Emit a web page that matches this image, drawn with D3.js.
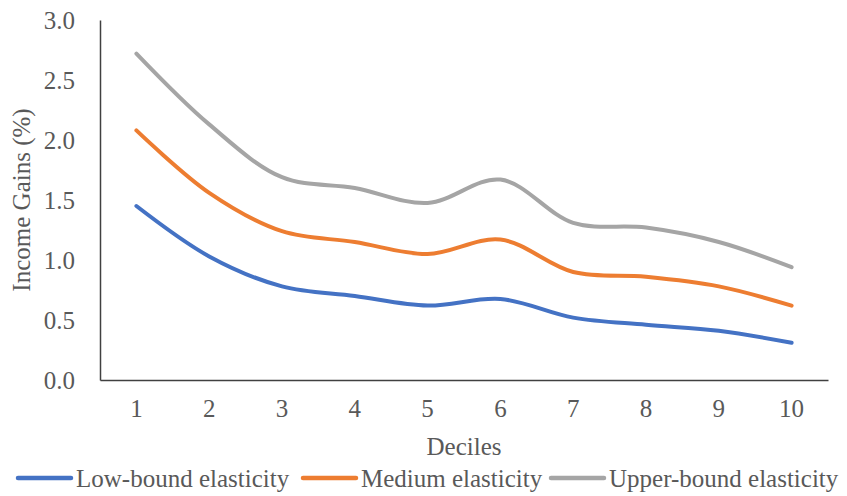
<!DOCTYPE html>
<html><head><meta charset="utf-8">
<script src="https://cdn.jsdelivr.net/npm/d3@7"></script>
<style>html,body{margin:0;padding:0;background:#fff;}svg{display:block;}</style>
</head><body>
<svg id="c" width="847" height="496"></svg>
<script>
const deciles = [1,2,3,4,5,6,7,8,9,10];
const lowBound = [1.45,1.03,0.78,0.70,0.62,0.675,0.52,0.46,0.41,0.31];
const medium   = [2.08,1.56,1.24,1.15,1.05,1.17,0.90,0.86,0.78,0.62];
const upper    = [2.72,2.13,1.69,1.60,1.475,1.67,1.31,1.27,1.15,0.94];
const seriesNames = ["Low-bound elasticity","Medium elasticity","Upper-bound elasticity"];
const seriesColors = ["#4472C4","#ED7D31","#A5A5A5"];
const yTicks = [0,0.5,1.0,1.5,2.0,2.5,3.0];
const series = [lowBound, medium, upper];

const svg = d3.select("#c");
const font = "'Liberation Serif', Tinos, 'Times New Roman', serif";
const fs = "25px";
const txt = "#595959";
const m = {left:100, right:19, top:20, bottom:116};
const W = 847, H = 496;
const x = d3.scaleBand().domain(deciles).range([m.left, W-m.right]);
const y = d3.scaleLinear().domain([0,3]).range([H-m.bottom, m.top]);

function styleText(sel){ return sel.attr("fill",txt).style("font-family",font).style("font-size",fs); }

// axes
const yAxis = svg.append("g").attr("transform",`translate(${m.left},0)`)
  .call(d3.axisLeft(y).tickValues(yTicks).tickFormat(d3.format(".1f")).tickSize(0).tickPadding(25));
const xAxis = svg.append("g").attr("transform",`translate(0,${H-m.bottom})`)
  .call(d3.axisBottom(x).tickSize(0).tickPadding(19));
[yAxis,xAxis].forEach(g=>{
  g.selectAll("path").attr("stroke","#404040").attr("stroke-width",1.5);
  styleText(g.selectAll("text"));
});

// lines
const line = d3.line().x((d,i)=>x(deciles[i])+x.bandwidth()/2).y(d=>y(d)).curve(d3.curveCatmullRom.alpha(0.5));
series.forEach((s,i)=>{
  svg.append("path").datum(s).attr("d",line).attr("fill","none")
    .attr("stroke",seriesColors[i]).attr("stroke-width",4).attr("stroke-linecap","round").attr("stroke-linejoin","round");
});

// axis titles
styleText(svg.append("text").attr("x",(m.left+W-m.right)/2).attr("y",455).attr("text-anchor","middle")).text("Deciles");
styleText(svg.append("text").attr("transform",`translate(30,${(m.top+H-m.bottom)/2}) rotate(-90)`).attr("text-anchor","middle")).text("Income Gains (%)");

// legend
const legTextX = [76,361,609];
const legY = 478;
seriesNames.forEach((n,i)=>{
  svg.append("line").attr("x1",legTextX[i]-58).attr("x2",legTextX[i]-5).attr("y1",legY).attr("y2",legY)
    .attr("stroke",seriesColors[i]).attr("stroke-width",4.5).attr("stroke-linecap","round");
  styleText(svg.append("text").attr("x",legTextX[i]).attr("y",legY+9)).text(n);
});
</script>
</body></html>
